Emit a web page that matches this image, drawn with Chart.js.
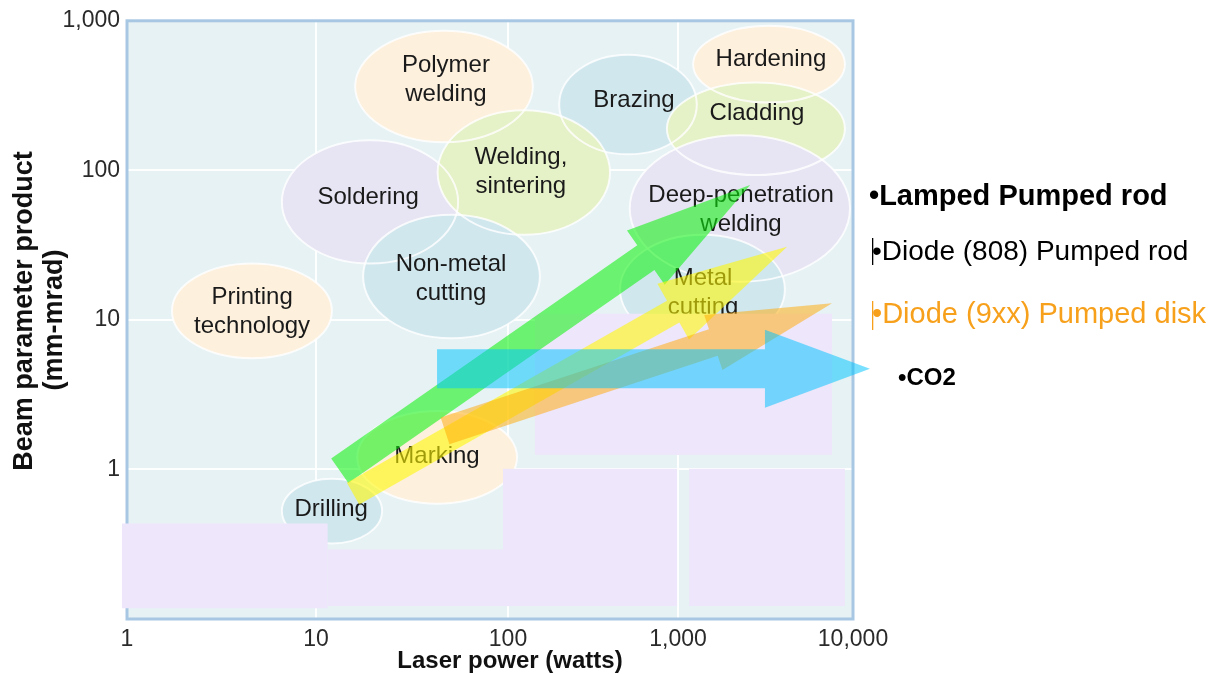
<!DOCTYPE html>
<html>
<head>
<meta charset="utf-8">
<script src="https://cdn.jsdelivr.net/npm/chart.js@4.4.1/dist/chart.umd.min.js"></script>
<style>
  html, body { margin: 0; padding: 0; background: #ffffff; }
  canvas { display: block; }
</style>
</head>
<body>
<canvas id="chart" width="1214" height="674"></canvas>
<script>
// ================= DATA =================
const X_TICK_VALUES = [1, 10, 100, 1000, 10000];
const X_TICK_LABELS = ['1', '10', '100', '1,000', '10,000'];
const Y_TICK_VALUES = [0.1, 1, 10, 100, 1000];
const Y_TICK_LABELS = ['', '1', '10', '100', '1,000'];

const X_TITLE = 'Laser power (watts)';
const Y_TITLE = ['Beam parameter product', '(mm-mrad)'];

// Application regions (laser power in W, beam parameter product in mm-mrad)
const regionNames = ['Hardening', 'Polymer\nwelding', 'Brazing', 'Cladding', 'Soldering',
  'Welding,\nsintering', 'Deep-penetration\nwelding', 'Metal\ncutting', 'Non-metal\ncutting',
  'Printing\ntechnology', 'Marking', 'Drilling'];
const regionGroup = ['peach', 'peach', 'blue', 'green', 'lavender', 'green', 'lavender',
  'blue', 'blue', 'peach', 'peach', 'blue'];
const regionPowerMin = [1220, 16, 200, 860, 6.6, 43, 520, 456, 17.6, 1.73, 16.4, 6.6];
const regionPowerMax = [8990, 140, 1280, 8990, 55, 398, 9610, 4080, 154, 12.1, 113, 22.1];
const regionBppMin = [284, 154, 128, 93, 23.8, 37.1, 18.0, 6.87, 7.53, 5.54, 0.59, 0.32];
const regionBppMax = [926, 858, 594, 387, 159, 252, 172, 37.1, 50.4, 23.8, 2.46, 0.867];
const regionLabelPower = [3396, 47.5, 551, 2826, 18.7, 119, 2291, 1389, 50.5, 4.59, 42.7, 12.0];
const regionLabelBpp = [550, 402, 294, 240, 66.4, 98.1, 54.8, 15.2, 18.9, 11.4, 1.23, 0.54];

// Laser technologies (arrows: start -> end)
const laserNames = ['Lamped Pumped rod', 'Diode (808) Pumped rod', 'Diode (9xx) Pumped disk', 'CO2'];
const laserPowerStart = [13.3, 15.6, 47.0, 42.7];
const laserBppStart = [0.98, 0.69, 1.81, 4.72];
const laserPowerEnd = [2580, 4200, 7590, 12500];
const laserBppEnd = [79.8, 30.8, 12.9, 4.72];

// Cover patches
const patchPowerMin = [144, 0.941, 11.5, 94.2, 1156];
const patchPowerMax = [7590, 11.5, 94.2, 987, 8990];
const patchBppMin = [1.25, 0.118, 0.122, 0.122, 0.122];
const patchBppMax = [11.0, 0.435, 0.292, 1.01, 1.01];

// ================= STYLE =================
const FONT = '"Liberation Sans", Arial, Helvetica, sans-serif';
const GROUP_COLORS = { peach: '#fdf0dd', blue: '#d0e7ed', green: '#e5f1c7', lavender: '#e7e4f3' };
const ARROW_COLORS = ['rgba(10,242,10,0.56)', 'rgba(255,248,0,0.58)', 'rgba(255,168,0,0.50)', 'rgba(0,195,255,0.52)'];
const ARROW_SHAFT = [30, 25, 28, 39];
const ARROW_HEAD_LEN = [127, 131, 125, 105];
const ARROW_HEAD_HALF = [33, 32, 29, 39];
const LEGEND_STYLE = [
  { font: 'bold 29px ' + FONT, color: '#000000', x: 869, y: 197 },
  { font: '28px ' + FONT, color: '#000000', x: 872, y: 252, bar: [238, 265] },
  { font: '29px ' + FONT, color: '#f7a01c', x: 872, y: 315, bar: [301, 330] },
  { font: 'bold 24px ' + FONT, color: '#000000', x: 898, y: 378 }
];
// x axis of the original is not evenly spaced per decade
const X_DECADE_FRACTIONS = [0, 0.2603, 0.5248, 0.7590, 1];

// ================= CUSTOM SCALE =================
class WarpedLogScale extends Chart.LogarithmicScale {
  _warp(l) {
    const f = X_DECADE_FRACTIONS, n = f.length - 1;
    const i = Math.min(Math.max(Math.floor(l), 0), n - 1);
    return f[i] + (l - i) * (f[i + 1] - f[i]);
  }
  _unwarp(d) {
    const f = X_DECADE_FRACTIONS, n = f.length - 1;
    let i = 0;
    while (i < n - 1 && d > f[i + 1]) i++;
    return i + (d - f[i]) / (f[i + 1] - f[i]);
  }
  getPixelForValue(value) {
    if (value === undefined || value === 0) value = this.min;
    if (value === null || isNaN(value) || value < 0) return NaN;
    const l = Math.log10(value) - Math.log10(this.min);
    return this.getPixelForDecimal(this._warp(l));
  }
  getValueForPixel(pixel) {
    const d = this.getDecimalForPixel(pixel);
    return Math.pow(10, Math.log10(this.min) + this._unwarp(d));
  }
}
WarpedLogScale.id = 'warpedLog';
WarpedLogScale.defaults = Chart.LogarithmicScale.defaults;
Chart.register(WarpedLogScale);

// ================= DRAWING PLUGIN =================
const artPlugin = {
  id: 'laserArt',
  beforeDraw(chart) {
    const { ctx, chartArea: a } = chart;
    ctx.save();
    ctx.fillStyle = '#e7f2f4';
    ctx.fillRect(a.left, a.top, a.right - a.left, a.bottom - a.top);
    ctx.restore();
  },
  beforeDatasetsDraw(chart) {
    const { ctx, chartArea: a } = chart;
    const xs = chart.scales.x, ys = chart.scales.y;
    const px = v => xs.getPixelForValue(v);
    const py = v => ys.getPixelForValue(v);

    // regions (clipped)
    ctx.save();
    ctx.beginPath();
    ctx.rect(a.left, a.top, a.right - a.left, a.bottom - a.top);
    ctx.clip();
    const shapes = regionNames.map((n, i) => {
      const x0 = px(regionPowerMin[i]), x1 = px(regionPowerMax[i]);
      const y0 = py(regionBppMax[i]), y1 = py(regionBppMin[i]);
      return { cx: (x0 + x1) / 2, cy: (y0 + y1) / 2, rx: (x1 - x0) / 2, ry: (y1 - y0) / 2 };
    });
    shapes.forEach((s, i) => {
      ctx.beginPath();
      ctx.ellipse(s.cx, s.cy, s.rx, s.ry, 0, 0, Math.PI * 2);
      ctx.fillStyle = GROUP_COLORS[regionGroup[i]];
      ctx.fill();
    });
    ctx.strokeStyle = 'rgba(255,255,255,0.8)';
    ctx.lineWidth = 2;
    shapes.forEach(s => {
      ctx.beginPath();
      ctx.ellipse(s.cx, s.cy, s.rx, s.ry, 0, 0, Math.PI * 2);
      ctx.stroke();
    });
    // region labels
    ctx.fillStyle = '#1a1a1a';
    ctx.font = '24px ' + FONT;
    ctx.textAlign = 'center';
    ctx.textBaseline = 'middle';
    regionNames.forEach((name, i) => {
      const lines = name.split('\n');
      const x = px(regionLabelPower[i]), y = py(regionLabelBpp[i]);
      const lh = 29;
      lines.forEach((ln, k) => {
        ctx.fillText(ln, x, y + (k - (lines.length - 1) / 2) * lh);
      });
    });
    ctx.restore();

    // plot border
    ctx.save();
    ctx.strokeStyle = '#a8c7e3';
    ctx.lineWidth = 3;
    ctx.strokeRect(a.left, a.top, a.right - a.left, a.bottom - a.top);
    ctx.restore();

    // cover patches
    ctx.save();
    ctx.fillStyle = '#eee6fa';
    patchPowerMin.forEach((v, i) => {
      const x0 = px(patchPowerMin[i]), x1 = px(patchPowerMax[i]);
      const y0 = py(patchBppMax[i]), y1 = py(patchBppMin[i]);
      ctx.fillRect(x0, y0, x1 - x0, y1 - y0);
    });
    ctx.restore();

    // arrows
    ctx.save();
    laserNames.forEach((n, i) => {
      const tx = px(laserPowerStart[i]), ty = py(laserBppStart[i]);
      const hx = px(laserPowerEnd[i]), hy = py(laserBppEnd[i]);
      const len = Math.hypot(hx - tx, hy - ty);
      const ux = (hx - tx) / len, uy = (hy - ty) / len;
      const nx = -uy, ny = ux;
      const sw = ARROW_SHAFT[i] / 2, hw = ARROW_HEAD_HALF[i], hl = ARROW_HEAD_LEN[i];
      const bx = hx - ux * hl, by = hy - uy * hl;
      ctx.beginPath();
      ctx.moveTo(tx + nx * sw, ty + ny * sw);
      ctx.lineTo(bx + nx * sw, by + ny * sw);
      ctx.lineTo(bx + nx * hw, by + ny * hw);
      ctx.lineTo(hx, hy);
      ctx.lineTo(bx - nx * hw, by - ny * hw);
      ctx.lineTo(bx - nx * sw, by - ny * sw);
      ctx.lineTo(tx - nx * sw, ty - ny * sw);
      ctx.closePath();
      ctx.fillStyle = ARROW_COLORS[i];
      ctx.fill();
    });
    ctx.restore();
  },
  afterDraw(chart) {
    const { ctx } = chart;
    ctx.save();
    // axis titles
    ctx.fillStyle = '#111111';
    ctx.textAlign = 'center';
    ctx.textBaseline = 'middle';
    ctx.font = 'bold 24px ' + FONT;
    ctx.fillText(X_TITLE, 510, 661);
    ctx.font = 'bold 27px ' + FONT;
    const yPos = [[25, 311], [55, 320]];
    Y_TITLE.forEach((t, k) => {
      ctx.save();
      ctx.translate(yPos[k][0], yPos[k][1]);
      ctx.rotate(-Math.PI / 2);
      ctx.fillText(t, 0, 0);
      ctx.restore();
    });
    // legend labels
    ctx.textAlign = 'left';
    laserNames.forEach((name, i) => {
      const st = LEGEND_STYLE[i];
      ctx.font = st.font;
      ctx.fillStyle = st.color;
      ctx.fillText('\u2022' + name, st.x, st.y);
      if (st.bar) {
        ctx.fillRect(st.x, st.bar[0], 1.3, st.bar[1] - st.bar[0]);
      }
    });
    ctx.restore();
  }
};

// ================= CHART =================
new Chart(document.getElementById('chart'), {
  type: 'scatter',
  data: { datasets: [] },
  options: {
    responsive: false,
    animation: false,
    layout: { padding: { left: 0, top: 18, right: 361, bottom: 0 } },
    plugins: { legend: { display: false }, tooltip: { enabled: false }, title: { display: false } },
    scales: {
      x: {
        type: 'warpedLog',
        min: 1,
        max: 10000,
        afterBuildTicks: s => { s.ticks = X_TICK_VALUES.map(v => ({ value: v })); },
        afterFit: s => { s.height = 55; },
        grid: { color: 'rgba(255,255,255,0.9)', lineWidth: 2, drawTicks: false },
        border: { display: false },
        ticks: {
          autoSkip: false, maxRotation: 0, padding: 7,
          color: '#2a2a2a', font: { family: FONT, size: 23 },
          callback: v => { const i = X_TICK_VALUES.indexOf(v); return i >= 0 ? X_TICK_LABELS[i] : ''; }
        },
        title: { display: false, text: X_TITLE }
      },
      y: {
        type: 'logarithmic',
        min: 0.1,
        max: 1000,
        afterBuildTicks: s => { s.ticks = Y_TICK_VALUES.map(v => ({ value: v })); },
        afterFit: s => { s.width = 127; },
        grid: { color: 'rgba(255,255,255,0.9)', lineWidth: 2, drawTicks: false },
        border: { display: false },
        ticks: {
          autoSkip: false, padding: 7,
          color: '#2a2a2a', font: { family: FONT, size: 23 },
          callback: v => { const i = Y_TICK_VALUES.indexOf(v); return i >= 0 ? Y_TICK_LABELS[i] : ''; }
        },
        title: { display: false, text: Y_TITLE }
      }
    }
  },
  plugins: [artPlugin]
});
</script>
</body>
</html>
